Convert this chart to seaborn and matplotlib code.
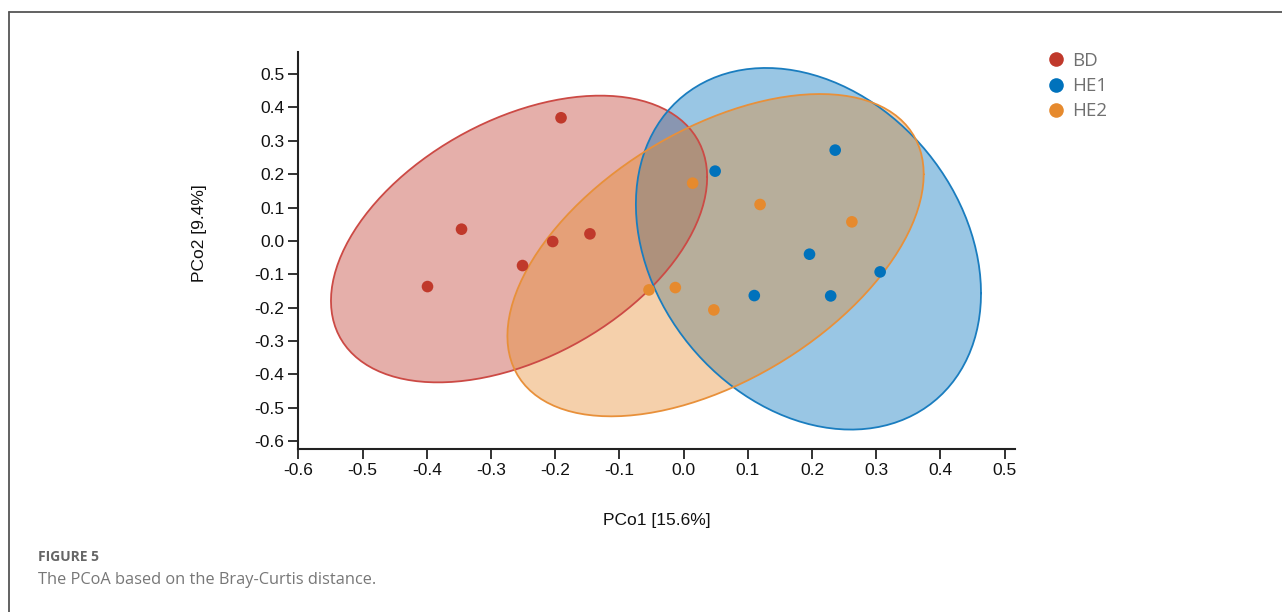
import numpy as np
import pandas as pd
import matplotlib
matplotlib.use("Agg")
import matplotlib.pyplot as plt
from matplotlib.lines import Line2D
import seaborn as sns

# PCoA coordinates per sample group
groups = ["BD", "HE1", "HE2"]
bd_pc1 = [-0.191, -0.346, -0.399, -0.251, -0.204, -0.146]
bd_pc2 = [0.369, 0.035, -0.137, -0.074, -0.002, 0.021]
he1_pc1 = [0.049, 0.236, 0.196, 0.306, 0.110, 0.229]
he1_pc2 = [0.209, 0.272, -0.040, -0.093, -0.164, -0.165]
he2_pc1 = [0.014, 0.119, 0.262, -0.013, -0.054, 0.047]
he2_pc2 = [0.173, 0.109, 0.057, -0.140, -0.147, -0.207]

x_ticks = [-0.6, -0.5, -0.4, -0.3, -0.2, -0.1, 0.0, 0.1, 0.2, 0.3, 0.4, 0.5]
y_ticks = [0.5, 0.4, 0.3, 0.2, 0.1, 0.0, -0.1, -0.2, -0.3, -0.4, -0.5, -0.6]
x_label = "PCo1 [15.6%]"
y_label = "PCo2 [9.4%]"
caption_head = "FIGURE 5"
caption_text = "The PCoA based on the Bray-Curtis distance."

palette = {"BD": "#C0392B", "HE1": "#0072BC", "HE2": "#E68A2E"}
edge_colors = {"BD": "#CC4A45", "HE1": "#1A7DBF", "HE2": "#E8903A"}

df = pd.DataFrame({
    "PCo1": bd_pc1 + he1_pc1 + he2_pc1,
    "PCo2": bd_pc2 + he1_pc2 + he2_pc2,
    "Group": ["BD"] * len(bd_pc1) + ["HE1"] * len(he1_pc1) + ["HE2"] * len(he2_pc1),
})


def cov_trob(x, nu=5, maxit=25, tol=0.01):
    """Multivariate-t robust location/scatter (as MASS::cov.trob)."""
    n, p = x.shape
    wt = np.ones(n)
    loc = x.mean(axis=0)
    w = np.sqrt(wt)
    xc = x - loc
    for _ in range(maxit):
        w0 = w
        xc = x - loc
        _, d, vt = np.linalg.svd(np.sqrt(w / w.sum())[:, None] * xc, full_matrices=False)
        wx = xc @ vt.T @ np.diag(1.0 / d)
        q = (wx ** 2).sum(axis=1)
        w = wt * (nu + p) / (nu + q)
        loc = (w[:, None] * x).sum(axis=0) / w.sum()
        if np.all(np.abs(w - w0) < tol):
            break
    cov = (np.sqrt(w)[:, None] * xc).T @ (np.sqrt(w)[:, None] * xc) / wt.sum()
    return loc, cov


def t_ellipse(x, level=0.95, segments=120):
    """Confidence ellipse based on the multivariate t distribution."""
    dfn, dfd = 2, x.shape[0] - 1
    loc, cov = cov_trob(x)
    # F quantile for 2 numerator degrees of freedom has a closed form
    fq = ((1 - level) ** (-2.0 / dfd) - 1) * dfd / 2.0
    radius = np.sqrt(dfn * fq)
    ang = np.linspace(0, 2 * np.pi, segments + 1)
    circle = np.column_stack([np.cos(ang), np.sin(ang)])
    upper = np.linalg.cholesky(cov).T
    return loc + radius * circle @ upper


sns.set_theme(style="ticks")
plt.rcParams["font.family"] = ["Liberation Sans", "DejaVu Sans"]

fig = plt.figure(figsize=(12.82, 6.12), dpi=100)
ax = fig.add_axes([0.2328, 0.2663, 0.5589, 0.6492])

for g in groups:
    sub = df[df["Group"] == g][["PCo1", "PCo2"]].to_numpy()
    ell = t_ellipse(sub)
    ax.fill(ell[:, 0], ell[:, 1], facecolor=palette[g], alpha=0.4,
            edgecolor="none", zorder=1)
    ax.plot(ell[:, 0], ell[:, 1], color=edge_colors[g], lw=1.3, zorder=1.5)

sns.scatterplot(data=df, x="PCo1", y="PCo2", hue="Group", hue_order=groups,
                palette=palette, s=70, edgecolor="none", linewidth=0,
                ax=ax, zorder=3, legend=False)

ax.set_xlim(-0.6, 0.516)
ax.set_ylim(-0.624, 0.567)
ax.set_xticks(x_ticks)
ax.set_yticks(y_ticks)
ax.set_xticklabels([f"{v:.1f}" for v in x_ticks])
ax.set_yticklabels([f"{v:.1f}" for v in y_ticks])
ax.tick_params(axis="both", direction="out", length=7, width=1.3,
               color="#222222", labelsize=12.5, labelcolor="#111111", pad=3)
for side in ["top", "right"]:
    ax.spines[side].set_visible(False)
for side in ["left", "bottom"]:
    ax.spines[side].set_linewidth(1.5)
    ax.spines[side].set_color("#222222")

ax.set_xlabel(x_label, fontsize=12.5, color="#111111")
ax.set_ylabel(y_label, fontsize=12.5, color="#111111")
ax.xaxis.set_label_coords(0.5, -0.16)
ax.yaxis.set_label_coords(-0.128, 0.544)

handles = [Line2D([0], [0], marker="o", linestyle="none", markersize=10.5,
                  markerfacecolor=palette[g], markeredgecolor="none")
           for g in groups]
leg = fig.legend(handles, groups, loc="upper left",
                 bbox_to_anchor=(1046.5 / 1282, 1 - 52 / 612),
                 bbox_transform=fig.transFigure, frameon=False,
                 handlelength=1.0, handletextpad=0.35, labelspacing=0.38,
                 borderpad=0, borderaxespad=0,
                 prop={"family": ["Open Sans", "DejaVu Sans"], "size": 13.5})
for t in leg.get_texts():
    t.set_color("#707070")

# outer frame lines of the figure panel
fig.add_artist(Line2D([9 / 1282, 1.0], [1 - 12 / 612, 1 - 12 / 612],
                      transform=fig.transFigure, color="#555555", lw=1.3))
fig.add_artist(Line2D([9 / 1282, 9 / 1282], [0.0, 1 - 12 / 612],
                      transform=fig.transFigure, color="#555555", lw=1.3))

fig.text(38 / 1282, 1 - 557 / 612, caption_head, fontsize=10, fontweight="bold",
         color="#666666", family=["Open Sans", "DejaVu Sans"], va="center", ha="left")
fig.text(38 / 1282, 1 - 580 / 612, caption_text, fontsize=11.8,
         color="#777777", family=["Open Sans", "DejaVu Sans"], va="center", ha="left")

fig.savefig("out.png", dpi=100)
